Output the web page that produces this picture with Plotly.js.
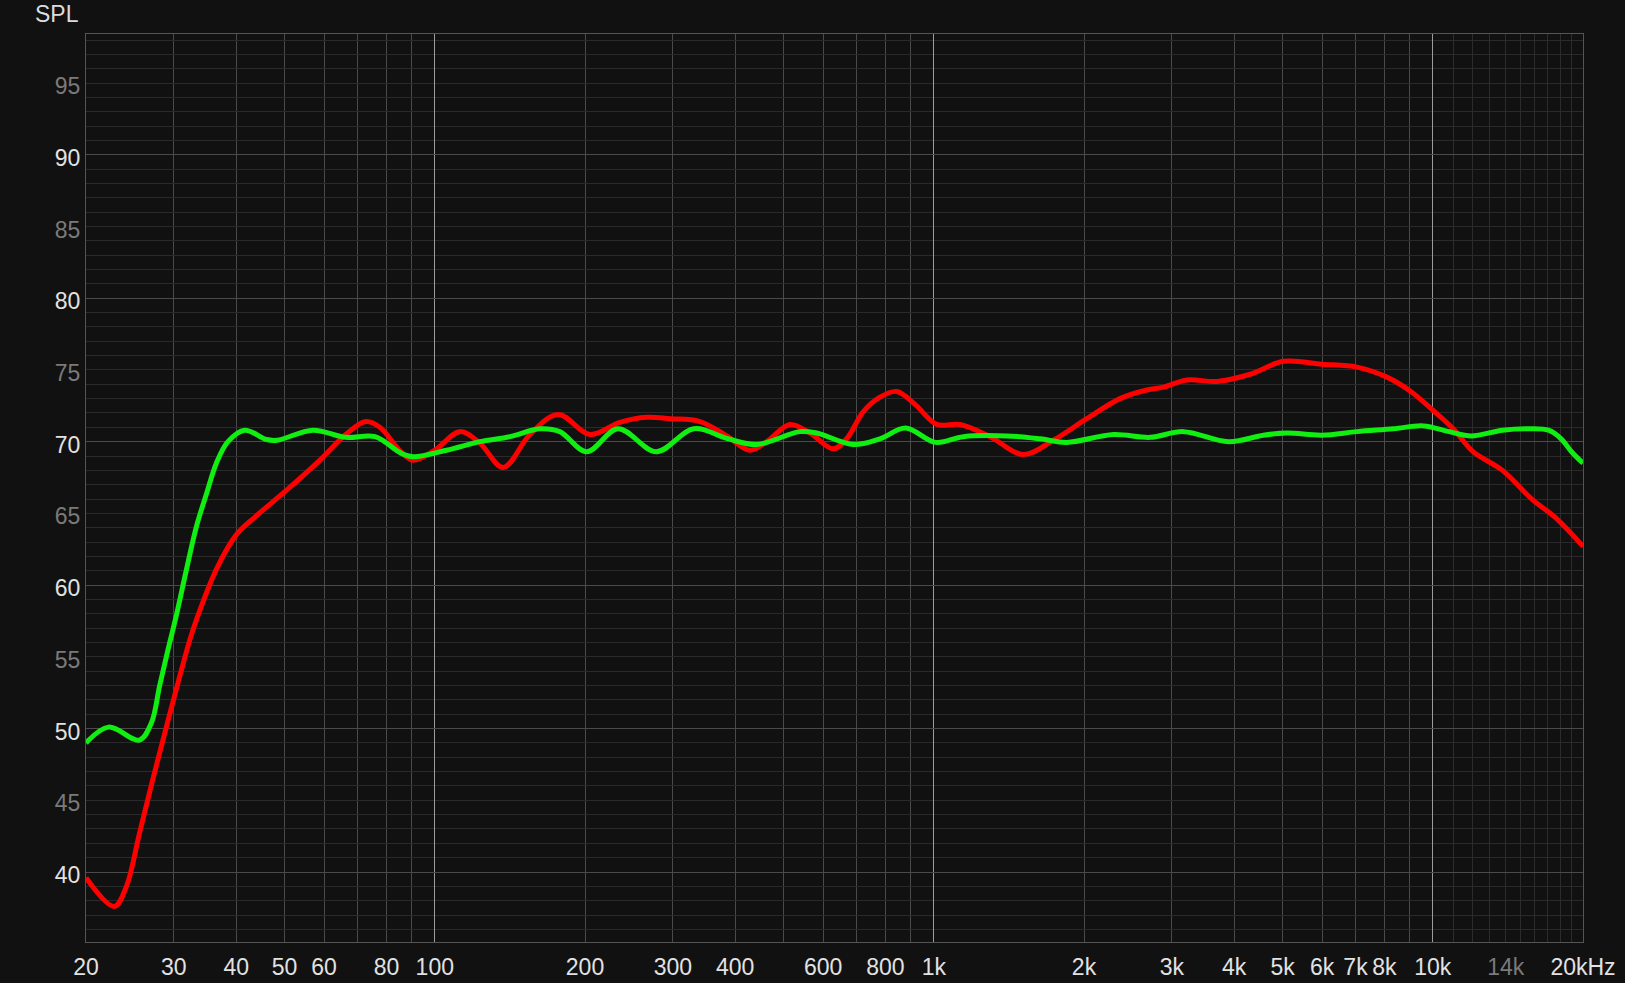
<!DOCTYPE html>
<html>
<head>
<meta charset="utf-8">
<script src="https://cdn.plot.ly/plotly-3.0.1.min.js"></script>
<style>
  html, body { margin: 0; padding: 0; background: #111111; }
  #plotDiv { width: 1625px; height: 983px; }
</style>
</head>
<body>
<div id="plotDiv"></div>
<script>
// Frequency response, two measurements (REW-style dark theme)

// red measurement
const redFreq = [20, 22.8, 24.1, 25.6, 27.2, 29, 30.8, 32.3, 33.3, 36.5, 40, 43.8, 50.4, 58.8, 66.3, 72.8, 77.6, 85.5, 90.5,
    100, 112.3, 123.1, 137.1, 155.1, 176.7, 204.6, 235, 265.8, 296, 340, 384.6, 428, 462.6, 515, 564.8, 629, 669, 722.6, 780,
    843, 917, 1014, 1129, 1297, 1512, 1736, 2026, 2362, 2673, 2886, 3216, 3693, 4306, 5022, 5995, 7046, 8092, 9035,
    10000, 10990, 12040, 13790, 15790, 17550, 20000];
const redSpl = [39.6, 37.6, 39.0, 42.7, 46.4, 50.15, 53.6, 56.2, 57.6, 61.1, 63.5, 64.8, 66.6, 68.7, 70.5, 71.4, 71.0, 69.3, 68.7,
    69.4, 70.7, 69.9, 68.2, 70.5, 71.9, 70.5, 71.35, 71.7, 71.6, 71.4, 70.4, 69.4, 70.0, 71.2, 70.6, 69.5, 70.2, 72.1, 73.1,
    73.5, 72.6, 71.2, 71.2, 70.35, 69.1, 70.1, 71.6, 73.0, 73.6, 73.8, 74.3, 74.2, 74.7, 75.6, 75.4, 75.2, 74.5, 73.5,
    72.2, 70.9, 69.3, 68.0, 66.0, 64.75, 62.7];

// green measurement
const greenFreq = [20, 22.2, 25.6, 27.05, 28.1, 29.2, 30.35, 31.8, 33.3, 34.9, 36.5, 38.5, 41.6, 46, 48.3, 57, 66.3, 75.9, 85.5, 90.5,
    105.6, 123.1, 141.4, 162.4, 178, 201.5, 233, 278, 330, 387, 441.6, 539, 582.6, 689.8, 780, 878, 1008, 1146, 1400, 1633,
    1847, 2291, 2714, 3165, 3896, 4578, 5100, 5995, 7046, 8342, 9582, 10790, 11940, 13790, 15520, 17060, 18080, 18970, 20000];
const greenSpl = [49.0, 50.1, 49.2, 50.4, 53.0, 55.5, 57.9, 61.1, 64.1, 66.4, 68.5, 70.0, 70.8, 70.15, 70.1, 70.8, 70.3, 70.35, 69.2, 68.95,
    69.4, 70.0, 70.35, 70.9, 70.7, 69.3, 70.9, 69.3, 70.9, 70.2, 69.8, 70.7, 70.6, 69.8, 70.2, 70.95, 69.95, 70.35, 70.4, 70.2,
    69.95, 70.5, 70.3, 70.7, 70.0, 70.45, 70.6, 70.45, 70.7, 70.9, 71.1, 70.7, 70.4, 70.8, 70.9, 70.8, 70.2, 69.3, 68.5];

// axis ticks
const freqTickVals = [20, 30, 40, 50, 60, 80, 100, 200, 300, 400, 600, 800, 1000, 2000, 3000, 4000, 5000, 6000, 7000, 8000, 10000, 14000, 20000];
const freqTickText = ['20', '30', '40', '50', '60', '80', '100', '200', '300', '400', '600', '800', '1k', '2k', '3k', '4k', '5k', '6k', '7k', '8k', '10k',
    '<span style="color:#7a7a7a">14k</span>', '20kHz'];
const freqGridVals = [30, 40, 50, 60, 70, 80, 90, 200, 300, 400, 500, 600, 700, 800, 900, 2000, 3000, 4000, 5000, 6000, 7000, 8000, 9000];
const freqDecadeVals = [100, 1000, 10000];
const freqFineVals = [11000, 12000, 13000, 14000, 15000, 16000, 17000, 18000, 19000];
const splTickVals = [40, 45, 50, 55, 60, 65, 70, 75, 80, 85, 90, 95];
const splTickText = ['40', '<span style="color:#7a7a7a">45</span>', '50', '<span style="color:#7a7a7a">55</span>', '60',
    '<span style="color:#7a7a7a">65</span>', '70', '<span style="color:#7a7a7a">75</span>', '80',
    '<span style="color:#7a7a7a">85</span>', '90', '<span style="color:#7a7a7a">95</span>'];
const splMajorGrid = [40, 50, 60, 70, 80, 90];

const bg = '#111111';
const fontFam = '"Liberation Sans", Arial, sans-serif';
const xRange = [Math.log10(20), Math.log10(20000)];
const yRange = [35.12, 98.42];

const traces = [
    {
        x: redFreq, y: redSpl, xaxis: 'x', yaxis: 'y',
        mode: 'lines', type: 'scatter', showlegend: false, hoverinfo: 'skip',
        line: { color: '#ff0000', width: 5, shape: 'spline', smoothing: 1 },
    },
    {
        x: greenFreq, y: greenSpl, xaxis: 'x2', yaxis: 'y2',
        mode: 'lines', type: 'scatter', showlegend: false, hoverinfo: 'skip',
        line: { color: '#11ee11', width: 5, shape: 'spline', smoothing: 1 },
    },
];

const layout = {
    width: 1625, height: 983,
    paper_bgcolor: bg,
    plot_bgcolor: bg,
    font: { family: fontFam, color: '#e2e2e2', size: 23 },
    margin: { l: 86, r: 42, t: 34, b: 41 },
    xaxis: {
        type: 'log', range: xRange,
        tickmode: 'array', tickvals: freqTickVals, ticktext: freqTickText,
        ticks: '', showgrid: false, zeroline: false, ticklabelstandoff: 4,
        showline: true, mirror: true, linecolor: '#555555', linewidth: 1,
        tickfont: { size: 23, color: '#e2e2e2' },
        minor: { tickmode: 'array', tickvals: freqGridVals, showgrid: true, gridcolor: '#4a4a4a', gridwidth: 1, ticks: '' },
    },
    yaxis: {
        range: yRange,
        tickmode: 'array', tickvals: splTickVals, ticktext: splTickText,
        ticks: '', showgrid: false, zeroline: false, ticklabelshift: 3,
        showline: true, mirror: true, linecolor: '#555555', linewidth: 1,
        tickfont: { size: 23, color: '#e2e2e2' },
        minor: { tickmode: 'linear', tick0: 0, dtick: 1, showgrid: true, gridcolor: '#2a2a2a', gridwidth: 1, ticks: '' },
    },
    xaxis2: {
        type: 'log', range: xRange, overlaying: 'x', anchor: 'y2',
        tickmode: 'array', tickvals: freqDecadeVals, showticklabels: false,
        ticks: '', showgrid: true, gridcolor: '#9c9c9c', gridwidth: 1, zeroline: false,
        minor: { tickmode: 'array', tickvals: freqFineVals, showgrid: true, gridcolor: '#2c2c2c', gridwidth: 1, ticks: '' },
    },
    yaxis2: {
        range: yRange, overlaying: 'y', anchor: 'x2',
        tickmode: 'array', tickvals: splMajorGrid, showticklabels: false,
        ticks: '', showgrid: true, gridcolor: '#4a4a4a', gridwidth: 1, zeroline: false,
    },
    annotations: [{
        text: 'SPL', xref: 'paper', yref: 'paper', x: 0, y: 1,
        xanchor: 'right', yanchor: 'bottom', xshift: -5, yshift: 5,
        showarrow: false, font: { size: 23, color: '#dcdcdc', family: fontFam },
    }],
    hovermode: false,
};

Plotly.newPlot('plotDiv', traces, layout, { displayModeBar: false, staticPlot: true });
</script>
</body>
</html>
